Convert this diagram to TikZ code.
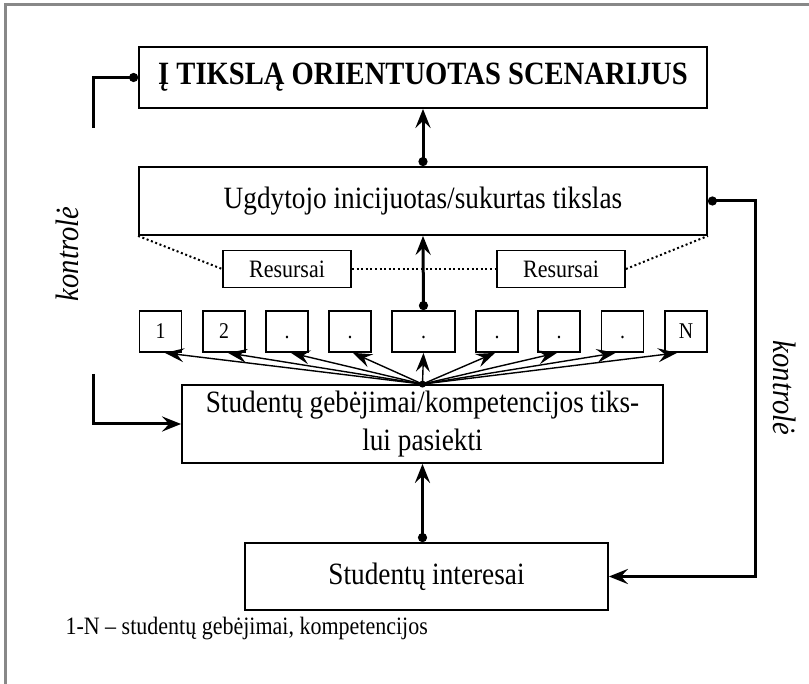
\documentclass[tikz,border=0pt]{standalone}
\usepackage{fontspec}
\setmainfont{Liberation Serif}[FakeStretch=0.88]
\usetikzlibrary{arrows.meta}
\begin{document}
\begin{tikzpicture}[x=1pt,y=-1pt,
  box/.style={draw, line width=1.8pt, inner sep=0pt, align=center, font=\fontsize{31}{38}\selectfont},
  resbox/.style={draw, line width=1.8pt, inner sep=0pt, minimum width=128pt, minimum height=37pt, font=\fontsize{25}{28}\selectfont},
  numbox/.style={draw, line width=1.8pt, inner sep=0pt, minimum width=42pt, minimum height=41pt, text height=15pt, text depth=0pt, font=\fontsize{22.5}{26}\selectfont},
  conn/.style={line width=3pt, line join=miter},
  fan/.style={line width=1.4pt, -{Stealth[length=19pt,width=14pt,inset=7pt]}},
  tip/.style={-{Stealth[length=19pt,width=15pt,inset=7pt]}},
  dtip/.style={{Circle[length=9pt]}-{Stealth[length=19pt,width=15pt,inset=7pt]}},
  dotline/.style={line width=2pt, dash pattern=on 2pt off 2.6pt},
  ctrl/.style={font=\itshape\fontsize{32.5}{36}\selectfont}
]
\useasboundingbox (0,0) rectangle (809,684);
\draw[line width=3pt, color={rgb,255:red,136;green,136;blue,136}] (5,684) -- (5,5) -- (809,5);

\node[box, minimum width=568pt, minimum height=61pt, font=\bfseries\fontsize{32.5}{38}\selectfont] (top) at (423,77.5) {Į TIKSLĄ ORIENTUOTAS SCENARIJUS};
\node[box, minimum width=568pt, minimum height=68pt] (ug) at (423,201) {Ugdytojo inicijuotas/sukurtas tikslas};
\node[resbox] (r1) at (287,269) {Resursai};
\node[resbox] (r2) at (561,269) {Resursai};

\node[numbox] (b1) at (160.5,331.5) {1};
\node[numbox] (b2) at (224,331.5) {2};
\node[numbox] (b3) at (287,331.5) {.};
\node[numbox] (b4) at (350,331.5) {.};
\node[numbox, minimum width=63pt] (b5) at (423.5,331.5) {.};
\node[numbox] (b6) at (497,331.5) {.};
\node[numbox] (b7) at (559,331.5) {.};
\node[numbox] (b8) at (622.5,331.5) {.};
\node[numbox] (b9) at (686,331.5) {N};

\node[box, minimum width=481pt, minimum height=78pt] (geb) at (422.5,424) {Studentų gebėjimai/kompetencijos tiks-\\lui pasiekti};
\node[box, minimum width=363pt, minimum height=67pt] (int) at (426.5,576.5) {Studentų interesai};

\node[ctrl, rotate=90] (kl) at (67,254) {kontrolė};
\node[ctrl, rotate=-90] (kr) at (785,388) {kontrolė};
\node[anchor=west, font=\fontsize{25}{29}\selectfont] (fn) at (62,629) {1-N – studentų gebėjimai, kompetencijos};

% dotted resource lines
\draw[dotline] (ug.south west) -- (r1.west);
\draw[dotline] (r1.east) -- (r2.west);
\draw[dotline] (r2.east) -- (ug.south east);

% control lines
\coordinate (c1) at (93,128);
\coordinate (c2) at (93,374);
\draw[conn, {Circle[length=9pt]}-] (top.west) -| (c1);
\draw[conn, tip] (c2) |- (geb.west);
\draw[conn, dtip] (ug.east) -- ++(48,0) |- (int.east);

% vertical main arrows
\draw[conn, dtip] (ug.north) -- (top.south);
\draw[conn, dtip] (b5.north) -- (ug.south);
\draw[conn, dtip] (int.north -| geb.south) -- (geb.south);

% fan
\fill (geb.north) circle (3.5pt);
\draw[fan] (geb.north) -- ([xshift=4.5pt]b1.south);
\draw[fan] (geb.north) -- ([xshift=4pt]b2.south);
\draw[fan] (geb.north) -- ([xshift=4pt]b3.south);
\draw[fan] (geb.north) -- ([xshift=3pt]b4.south);
\draw[fan] (geb.north) -- (b5.south);
\draw[fan] (geb.north) -- ([xshift=-2pt]b6.south);
\draw[fan] (geb.north) -- ([xshift=-2pt]b7.south);
\draw[fan] (geb.north) -- ([xshift=-7pt]b8.south);
\draw[fan] (geb.north) -- ([xshift=-9pt]b9.south);
\end{tikzpicture}
\end{document}
